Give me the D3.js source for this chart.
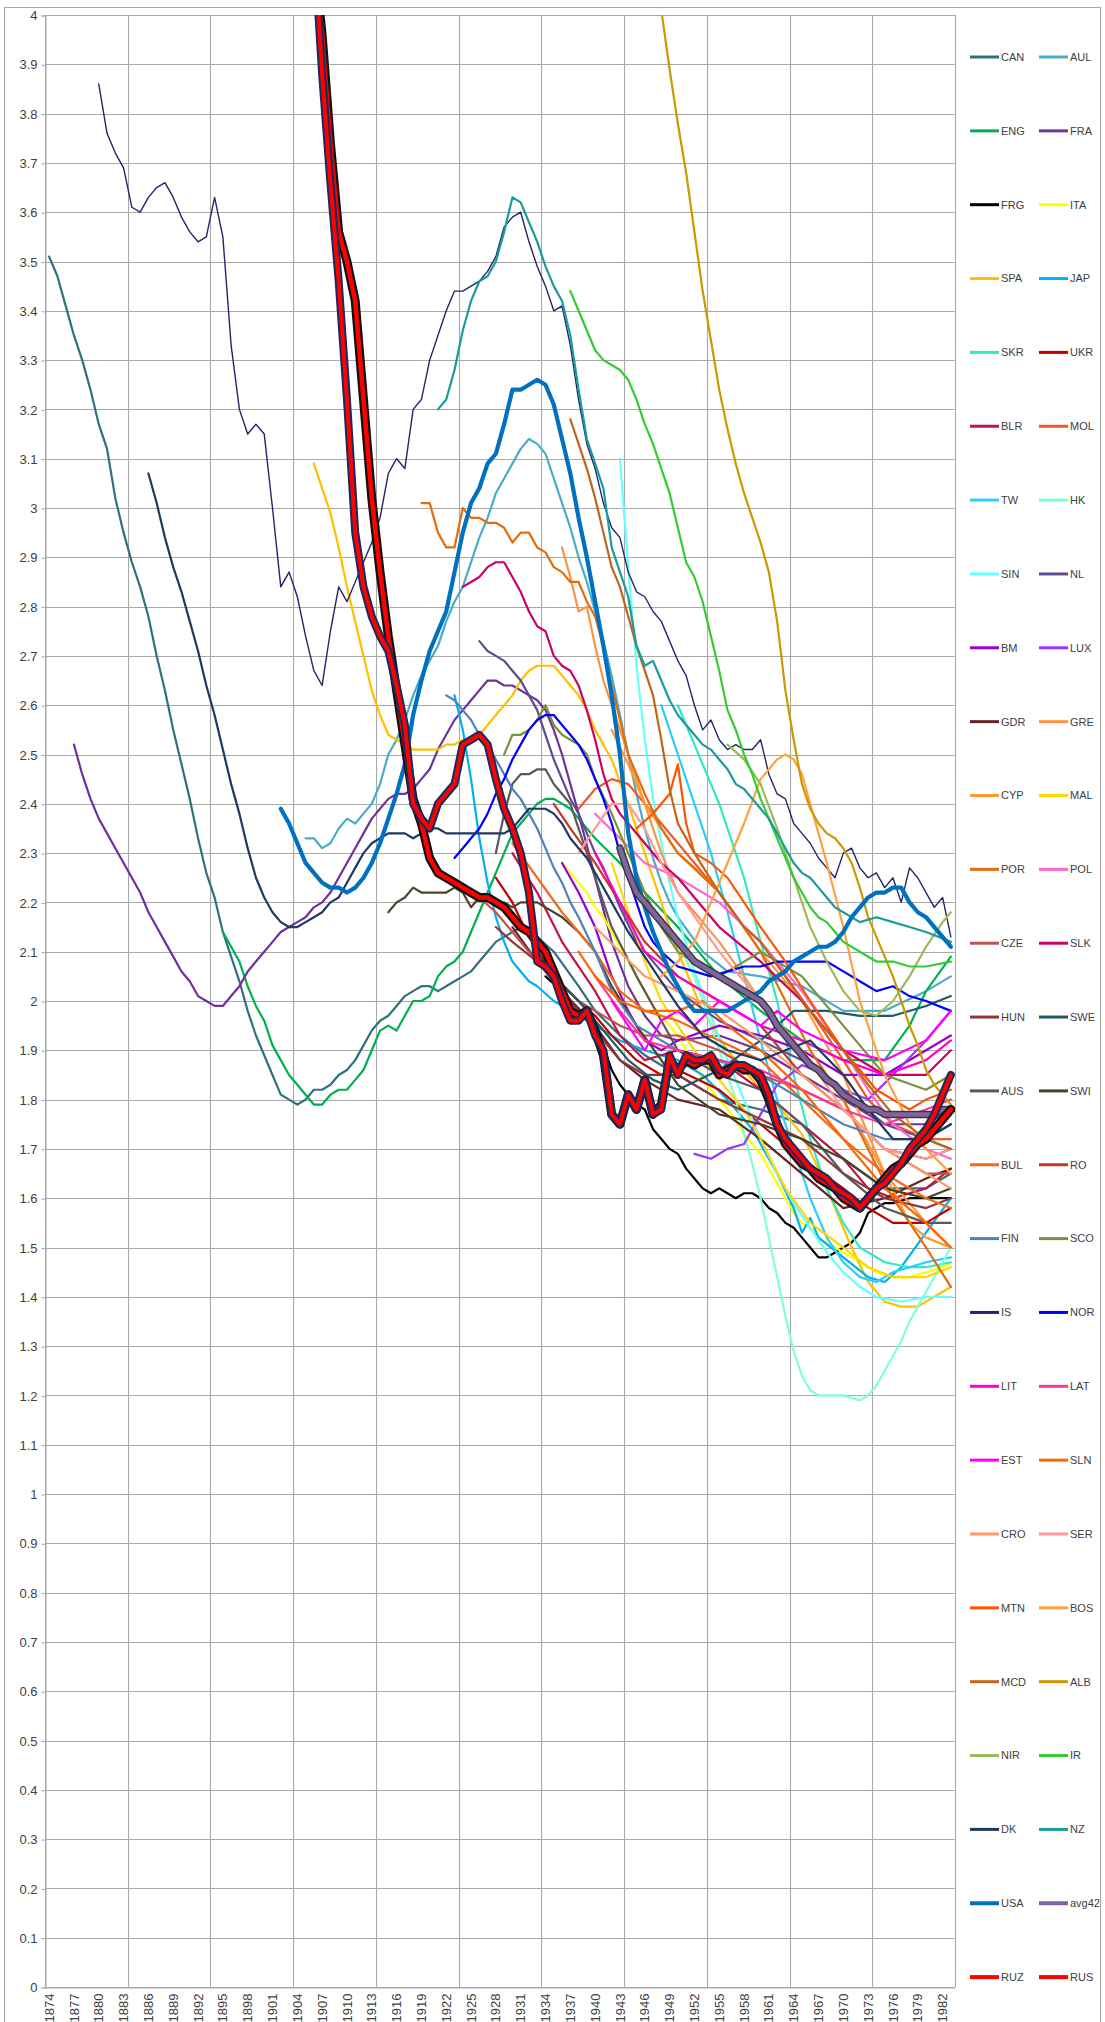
<!DOCTYPE html>
<html><head><meta charset="utf-8">
<script src="https://cdn.jsdelivr.net/npm/d3@7"></script>
<style>
body{margin:0;background:#fff}
svg{display:block}
text{font-family:"Liberation Sans",Arial,sans-serif}
</style>
</head><body>
<svg id="chart" width="1105" height="2022"></svg>
<script>
// ---- categories & ticks ----
const years = d3.range(1874, 1984);
const xTickYears = d3.range(1874, 1984, 3);
const yTicks = d3.range(0, 41).map(i => i / 10);

// ---- series values: [year, value] ----
const CAN = [[1874,3.51],[1875,3.47],[1876,3.41],[1877,3.35],[1878,3.30],[1879,3.24],[1880,3.17],[1881,3.12],[1882,3.02],[1883,2.95],[1884,2.89],[1885,2.84],[1886,2.78],[1887,2.70],[1888,2.63],[1889,2.55],[1890,2.48],[1891,2.41],[1892,2.33],[1893,2.26],[1894,2.21],[1895,2.14],[1896,2.09],[1897,2.04],[1898,1.98],[1899,1.93],[1900,1.89],[1901,1.85],[1902,1.81],[1903,1.80],[1904,1.79],[1905,1.80],[1906,1.82],[1907,1.82],[1908,1.83],[1909,1.85],[1910,1.86],[1911,1.88],[1912,1.91],[1913,1.94],[1914,1.96],[1915,1.97],[1916,1.99],[1917,2.01],[1918,2.02],[1919,2.03],[1920,2.03],[1921,2.02],[1922,2.03],[1923,2.04],[1924,2.05],[1925,2.06],[1926,2.08],[1927,2.10],[1928,2.12],[1929,2.13],[1930,2.14],[1931,2.15],[1933,2.13],[1935,2.10],[1938,2.03],[1940,1.98],[1943,1.93],[1946,1.89],[1950,1.85],[1955,1.80],[1960,1.78],[1965,1.75],[1970,1.68],[1975,1.62],[1980,1.62],[1983,1.65]];
const AUL = [[1905,2.33],[1906,2.33],[1907,2.31],[1908,2.32],[1909,2.35],[1910,2.37],[1911,2.36],[1912,2.38],[1913,2.40],[1914,2.44],[1915,2.50],[1916,2.53],[1917,2.57],[1918,2.62],[1919,2.66],[1920,2.69],[1921,2.72],[1922,2.77],[1923,2.81],[1924,2.84],[1925,2.89],[1926,2.94],[1927,2.98],[1928,3.03],[1929,3.06],[1930,3.09],[1931,3.12],[1932,3.14],[1933,3.13],[1934,3.11],[1935,3.06],[1936,3.01],[1937,2.96],[1938,2.90],[1939,2.85],[1940,2.79],[1941,2.73],[1942,2.66],[1943,2.58],[1944,2.50],[1945,2.42],[1946,2.35],[1947,2.29],[1948,2.24],[1949,2.20],[1950,2.17],[1953,2.10],[1956,2.06],[1960,2.05],[1965,2.03],[1970,1.98],[1975,1.98],[1980,2.02],[1983,2.05]];
const ENG = [[1895,2.14],[1896,2.11],[1897,2.08],[1898,2.03],[1899,1.99],[1900,1.96],[1901,1.91],[1902,1.88],[1903,1.85],[1904,1.83],[1905,1.81],[1906,1.79],[1907,1.79],[1908,1.81],[1909,1.82],[1910,1.82],[1911,1.84],[1912,1.86],[1913,1.90],[1914,1.94],[1915,1.95],[1916,1.94],[1917,1.97],[1918,2.00],[1919,2.00],[1920,2.01],[1921,2.05],[1922,2.07],[1923,2.08],[1924,2.10],[1925,2.14],[1926,2.18],[1927,2.22],[1928,2.26],[1929,2.30],[1930,2.34],[1931,2.36],[1932,2.38],[1933,2.40],[1934,2.41],[1935,2.41],[1936,2.40],[1937,2.39],[1938,2.37],[1939,2.35],[1940,2.33],[1943,2.28],[1946,2.22],[1950,2.15],[1955,2.05],[1960,1.98],[1965,1.92],[1970,1.88],[1975,1.88],[1978,1.95],[1980,2.02],[1983,2.09]];
const FRA = [[1877,2.52],[1878,2.46],[1879,2.41],[1880,2.37],[1881,2.34],[1882,2.31],[1883,2.28],[1884,2.25],[1885,2.22],[1886,2.18],[1887,2.15],[1888,2.12],[1889,2.09],[1890,2.06],[1891,2.04],[1892,2.01],[1893,2.00],[1894,1.99],[1895,1.99],[1896,2.01],[1897,2.03],[1898,2.06],[1899,2.08],[1900,2.10],[1901,2.12],[1902,2.14],[1903,2.15],[1904,2.16],[1905,2.17],[1906,2.19],[1907,2.20],[1908,2.22],[1909,2.25],[1910,2.28],[1911,2.31],[1912,2.34],[1913,2.37],[1914,2.39],[1915,2.41],[1916,2.42],[1917,2.42],[1918,2.43],[1919,2.45],[1920,2.47],[1921,2.51],[1922,2.54],[1923,2.57],[1924,2.59],[1925,2.61],[1926,2.63],[1927,2.65],[1928,2.65],[1929,2.64],[1930,2.64],[1931,2.63],[1932,2.62],[1933,2.61],[1934,2.59],[1935,2.55],[1936,2.50],[1938,2.38],[1940,2.25],[1942,2.12],[1944,2.03],[1946,1.97],[1948,1.93],[1950,1.92],[1955,1.93],[1960,1.90],[1965,1.85],[1970,1.80],[1975,1.75],[1980,1.75],[1983,1.78]];
const FRG = [[1934,2.05],[1936,2.02],[1938,1.98],[1940,1.94],[1941,1.91],[1942,1.86],[1943,1.83],[1944,1.81],[1945,1.79],[1946,1.78],[1947,1.74],[1948,1.72],[1949,1.70],[1950,1.69],[1951,1.66],[1952,1.64],[1953,1.62],[1954,1.61],[1955,1.62],[1956,1.61],[1957,1.60],[1958,1.61],[1959,1.61],[1960,1.60],[1961,1.58],[1962,1.57],[1963,1.55],[1964,1.54],[1965,1.52],[1966,1.50],[1967,1.48],[1968,1.48],[1969,1.49],[1970,1.50],[1971,1.51],[1972,1.53],[1973,1.57],[1974,1.58],[1975,1.59],[1976,1.59],[1978,1.60],[1980,1.60],[1983,1.60]];
const ITA = [[1936,2.28],[1937,2.26],[1938,2.24],[1939,2.22],[1940,2.19],[1941,2.17],[1942,2.14],[1943,2.11],[1944,2.08],[1945,2.05],[1946,2.02],[1947,1.99],[1948,1.97],[1949,1.95],[1950,1.93],[1951,1.90],[1952,1.87],[1953,1.84],[1954,1.82],[1955,1.80],[1956,1.78],[1957,1.76],[1958,1.73],[1959,1.71],[1960,1.69],[1961,1.66],[1962,1.63],[1963,1.60],[1964,1.57],[1965,1.55],[1966,1.54],[1967,1.52],[1968,1.51],[1969,1.50],[1970,1.49],[1971,1.48],[1972,1.47],[1973,1.46],[1974,1.45],[1976,1.44],[1978,1.44],[1980,1.45],[1982,1.46],[1983,1.47]];
const SPA = [[1906,3.09],[1907,3.04],[1908,2.99],[1909,2.92],[1910,2.84],[1911,2.77],[1912,2.70],[1913,2.63],[1914,2.58],[1915,2.54],[1916,2.53],[1917,2.52],[1918,2.51],[1919,2.51],[1920,2.51],[1921,2.51],[1922,2.52],[1923,2.52],[1924,2.53],[1925,2.53],[1926,2.54],[1927,2.56],[1928,2.58],[1929,2.60],[1930,2.62],[1931,2.65],[1932,2.67],[1933,2.68],[1934,2.68],[1935,2.68],[1936,2.66],[1937,2.64],[1938,2.62],[1939,2.59],[1940,2.55],[1941,2.52],[1942,2.49],[1944,2.40],[1946,2.30],[1948,2.20],[1950,2.10],[1953,1.98],[1956,1.90],[1960,1.82],[1963,1.77],[1965,1.73],[1967,1.66],[1969,1.58],[1971,1.50],[1973,1.43],[1975,1.39],[1977,1.38],[1979,1.38],[1981,1.40],[1983,1.42]];
const JAP = [[1923,2.62],[1924,2.55],[1925,2.45],[1926,2.33],[1927,2.24],[1928,2.17],[1929,2.12],[1930,2.08],[1931,2.06],[1932,2.04],[1933,2.03],[1935,2.00],[1938,1.97],[1940,1.95],[1943,1.92],[1946,1.90],[1950,1.88],[1953,1.85],[1956,1.80],[1959,1.74],[1962,1.65],[1964,1.58],[1965,1.53],[1966,1.56],[1967,1.52],[1970,1.48],[1973,1.44],[1975,1.43],[1977,1.46],[1980,1.53],[1983,1.60]];
const SKR = [[1950,2.60],[1952,2.52],[1955,2.40],[1958,2.25],[1960,2.12],[1962,2.00],[1964,1.85],[1966,1.72],[1968,1.62],[1970,1.55],[1972,1.50],[1975,1.47],[1978,1.46],[1980,1.46],[1983,1.47]];
const UKR = [[1928,2.25],[1930,2.20],[1932,2.13],[1935,2.05],[1938,2.00],[1940,1.97],[1942,1.93],[1945,1.88],[1948,1.85],[1950,1.86],[1955,1.82],[1960,1.75],[1965,1.68],[1970,1.62],[1973,1.58],[1976,1.55],[1980,1.55],[1983,1.58]];
const BLR = [[1930,2.30],[1933,2.22],[1936,2.12],[1940,2.02],[1943,1.93],[1946,1.88],[1950,1.90],[1955,1.88],[1960,1.82],[1965,1.75],[1970,1.68],[1973,1.62],[1976,1.60],[1980,1.62],[1983,1.66]];
const MOL = [[1938,2.39],[1940,2.43],[1942,2.45],[1944,2.44],[1946,2.40],[1948,2.36],[1950,2.32],[1952,2.28],[1955,2.22],[1958,2.15],[1960,2.12],[1963,2.05],[1966,1.98],[1970,1.88],[1973,1.80],[1976,1.75],[1980,1.72],[1983,1.72]];
const TW = [[1948,2.60],[1950,2.50],[1952,2.40],[1954,2.30],[1956,2.18],[1958,2.05],[1960,1.92],[1962,1.80],[1964,1.70],[1966,1.60],[1968,1.52],[1970,1.47],[1972,1.44],[1974,1.43],[1976,1.45],[1980,1.47],[1983,1.48]];
const HK = [[1949,2.15],[1952,2.05],[1955,1.90],[1957,1.80],[1958,1.73],[1959,1.67],[1960,1.60],[1961,1.52],[1962,1.44],[1963,1.36],[1964,1.29],[1965,1.24],[1966,1.21],[1967,1.20],[1968,1.20],[1970,1.20],[1972,1.19],[1973,1.20],[1974,1.22],[1975,1.25],[1976,1.28],[1977,1.31],[1978,1.35],[1979,1.38],[1980,1.41],[1981,1.44],[1982,1.47],[1983,1.50]];
const SIN = [[1943,3.10],[1944,2.88],[1945,2.68],[1946,2.53],[1947,2.41],[1948,2.32],[1949,2.24],[1950,2.17],[1952,2.06],[1954,1.97],[1956,1.88],[1958,1.80],[1960,1.72],[1962,1.65],[1964,1.59],[1966,1.54],[1968,1.49],[1970,1.45],[1972,1.42],[1974,1.40],[1977,1.39],[1980,1.40],[1983,1.40]];
const NL = [[1926,2.73],[1927,2.71],[1928,2.70],[1929,2.69],[1930,2.67],[1931,2.65],[1932,2.62],[1933,2.59],[1934,2.54],[1935,2.49],[1936,2.45],[1937,2.41],[1938,2.38],[1939,2.34],[1940,2.30],[1941,2.27],[1942,2.23],[1943,2.19],[1945,2.12],[1950,2.02],[1955,1.96],[1960,1.92],[1965,1.88],[1970,1.82],[1975,1.75],[1980,1.72],[1983,1.70]];
const BM = [[1936,2.28],[1938,2.22],[1940,2.15],[1942,2.05],[1944,1.98],[1946,1.92],[1948,1.90],[1950,1.92],[1955,1.95],[1960,1.93],[1965,1.90],[1970,1.85],[1975,1.85],[1980,1.90],[1983,1.93]];
const LUX = [[1952,1.69],[1954,1.68],[1956,1.70],[1958,1.71],[1960,1.77],[1962,1.83],[1965,1.87],[1968,1.85],[1970,1.82],[1973,1.80],[1976,1.85],[1980,1.92],[1983,1.98]];
const GDR = [[1930,2.15],[1933,2.08],[1936,2.02],[1940,1.95],[1943,1.88],[1946,1.84],[1950,1.80],[1955,1.78],[1960,1.72],[1965,1.65],[1970,1.58],[1975,1.60],[1980,1.64],[1983,1.66]];
const GRE = [[1936,2.92],[1937,2.86],[1938,2.79],[1939,2.80],[1940,2.72],[1941,2.65],[1942,2.60],[1943,2.55],[1944,2.50],[1946,2.40],[1948,2.30],[1950,2.22],[1952,2.18],[1955,2.12],[1958,2.05],[1960,2.00],[1965,1.90],[1970,1.80],[1975,1.65],[1980,1.55],[1983,1.50]];
const CYP = [[1942,2.55],[1944,2.48],[1946,2.40],[1950,2.30],[1955,2.22],[1960,2.10],[1965,2.00],[1970,1.85],[1975,1.65],[1978,1.55],[1980,1.52],[1983,1.50]];
const MAL = [[1942,2.28],[1944,2.18],[1946,2.08],[1948,2.00],[1950,1.95],[1952,1.90],[1955,1.84],[1958,1.78],[1960,1.72],[1963,1.62],[1966,1.55],[1970,1.50],[1973,1.46],[1976,1.44],[1980,1.44],[1983,1.46]];
const POR = [[1919,3.01],[1920,3.01],[1921,2.95],[1922,2.92],[1923,2.92],[1924,3.00],[1925,2.98],[1926,2.98],[1927,2.97],[1928,2.97],[1929,2.96],[1930,2.93],[1931,2.95],[1932,2.95],[1933,2.92],[1934,2.91],[1935,2.88],[1936,2.87],[1937,2.85],[1938,2.85],[1939,2.81],[1940,2.78],[1941,2.72],[1942,2.64],[1943,2.57],[1944,2.50],[1946,2.42],[1948,2.35],[1950,2.30],[1952,2.27],[1955,2.22],[1958,2.15],[1960,2.10],[1963,2.00],[1966,1.90],[1970,1.80],[1973,1.70],[1976,1.60],[1980,1.50],[1983,1.42]];
const POL = [[1940,2.38],[1943,2.33],[1946,2.28],[1950,2.25],[1955,2.20],[1960,2.12],[1965,2.02],[1970,1.90],[1973,1.82],[1976,1.75],[1980,1.70],[1983,1.68]];
const CZE = [[1926,2.21],[1928,2.18],[1930,2.14],[1932,2.10],[1935,2.05],[1938,2.00],[1940,1.98],[1943,1.95],[1946,1.93],[1950,1.93],[1955,1.90],[1960,1.85],[1965,1.82],[1970,1.78],[1975,1.70],[1980,1.65],[1983,1.65]];
const SLK = [[1924,2.84],[1925,2.85],[1926,2.86],[1927,2.88],[1928,2.89],[1929,2.89],[1930,2.86],[1931,2.83],[1932,2.79],[1933,2.76],[1934,2.75],[1935,2.70],[1936,2.68],[1937,2.67],[1938,2.64],[1939,2.59],[1940,2.53],[1941,2.46],[1942,2.41],[1943,2.38],[1944,2.36],[1946,2.32],[1948,2.28],[1950,2.25],[1955,2.15],[1960,2.08],[1965,2.00],[1970,1.90],[1975,1.85],[1980,1.85],[1983,1.90]];
const HUN = [[1928,2.15],[1930,2.12],[1933,2.08],[1936,2.02],[1940,1.94],[1943,1.88],[1946,1.85],[1950,1.85],[1955,1.80],[1960,1.76],[1965,1.72],[1970,1.65],[1975,1.60],[1980,1.58],[1983,1.60]];
const SWE = [[1935,2.05],[1938,2.00],[1941,1.94],[1944,1.88],[1947,1.84],[1950,1.82],[1955,1.86],[1960,1.92],[1964,1.98],[1968,1.98],[1972,1.97],[1976,1.97],[1980,1.99],[1983,2.01]];
const AUS = [[1928,2.30],[1929,2.38],[1930,2.44],[1931,2.46],[1932,2.46],[1933,2.47],[1934,2.47],[1935,2.44],[1936,2.42],[1937,2.40],[1938,2.35],[1940,2.25],[1942,2.15],[1945,2.05],[1950,1.90],[1955,1.85],[1960,1.82],[1965,1.75],[1970,1.65],[1975,1.58],[1980,1.55],[1983,1.55]];
const SWI = [[1915,2.18],[1916,2.20],[1917,2.21],[1918,2.23],[1919,2.22],[1920,2.22],[1921,2.22],[1922,2.22],[1923,2.23],[1924,2.22],[1925,2.19],[1926,2.21],[1927,2.21],[1928,2.20],[1929,2.20],[1930,2.19],[1931,2.20],[1932,2.20],[1933,2.20],[1934,2.19],[1935,2.18],[1936,2.17],[1938,2.14],[1940,2.10],[1942,2.03],[1945,1.95],[1948,1.88],[1950,1.83],[1955,1.77],[1960,1.75],[1965,1.72],[1970,1.68],[1975,1.62],[1980,1.60],[1983,1.62]];
const BUL = [[1930,2.32],[1933,2.25],[1936,2.18],[1940,2.10],[1943,2.02],[1946,1.98],[1950,1.96],[1955,1.92],[1960,1.88],[1965,1.80],[1970,1.72],[1975,1.65],[1980,1.60],[1983,1.58]];
const RO = [[1935,2.40],[1937,2.35],[1940,2.28],[1943,2.20],[1946,2.12],[1950,2.05],[1955,2.00],[1960,1.95],[1965,1.85],[1970,1.78],[1975,1.70],[1980,1.68],[1983,1.70]];
const FIN = [[1922,2.62],[1923,2.61],[1924,2.59],[1925,2.57],[1926,2.54],[1927,2.52],[1928,2.49],[1929,2.46],[1930,2.43],[1931,2.41],[1932,2.38],[1933,2.35],[1934,2.31],[1935,2.27],[1936,2.24],[1937,2.20],[1938,2.17],[1940,2.10],[1942,2.02],[1945,1.95],[1950,1.90],[1955,1.88],[1960,1.85],[1965,1.80],[1970,1.75],[1975,1.72],[1980,1.72],[1983,1.75]];
const SCO = [[1929,2.50],[1930,2.54],[1931,2.54],[1932,2.55],[1933,2.57],[1934,2.60],[1935,2.56],[1936,2.54],[1937,2.53],[1938,2.52],[1939,2.50],[1940,2.45],[1942,2.38],[1944,2.30],[1946,2.22],[1948,2.15],[1950,2.10],[1955,2.05],[1960,2.10],[1965,2.05],[1970,1.95],[1975,1.85],[1980,1.82],[1983,1.85]];
const IS = [[1880,3.86],[1881,3.76],[1882,3.72],[1883,3.69],[1884,3.61],[1885,3.60],[1886,3.63],[1887,3.65],[1888,3.66],[1889,3.63],[1890,3.59],[1891,3.56],[1892,3.54],[1893,3.55],[1894,3.63],[1895,3.55],[1896,3.33],[1897,3.20],[1898,3.15],[1899,3.17],[1900,3.15],[1901,3.00],[1902,2.84],[1903,2.87],[1904,2.82],[1905,2.74],[1906,2.67],[1907,2.64],[1908,2.75],[1909,2.84],[1910,2.81],[1911,2.85],[1912,2.89],[1913,2.93],[1914,2.98],[1915,3.07],[1916,3.10],[1917,3.08],[1918,3.20],[1919,3.22],[1920,3.30],[1921,3.35],[1922,3.40],[1923,3.44],[1924,3.44],[1925,3.45],[1926,3.46],[1927,3.48],[1928,3.51],[1929,3.57],[1930,3.59],[1931,3.60],[1932,3.54],[1933,3.49],[1934,3.45],[1935,3.40],[1936,3.41],[1937,3.33],[1938,3.22],[1939,3.13],[1940,3.08],[1941,3.01],[1942,2.96],[1943,2.94],[1944,2.87],[1945,2.83],[1946,2.82],[1947,2.79],[1948,2.77],[1949,2.73],[1950,2.69],[1951,2.66],[1952,2.60],[1953,2.55],[1954,2.57],[1955,2.53],[1956,2.51],[1957,2.52],[1958,2.51],[1959,2.51],[1960,2.53],[1961,2.46],[1962,2.42],[1963,2.41],[1964,2.36],[1965,2.34],[1966,2.32],[1967,2.29],[1968,2.27],[1969,2.25],[1970,2.30],[1971,2.31],[1972,2.27],[1973,2.25],[1974,2.26],[1975,2.23],[1976,2.25],[1977,2.20],[1978,2.27],[1979,2.25],[1980,2.22],[1981,2.19],[1982,2.21],[1983,2.13]];
const NOR = [[1923,2.29],[1924,2.31],[1925,2.33],[1926,2.35],[1927,2.38],[1928,2.42],[1929,2.45],[1930,2.49],[1931,2.52],[1932,2.55],[1933,2.57],[1934,2.58],[1935,2.58],[1936,2.56],[1937,2.54],[1938,2.52],[1939,2.49],[1940,2.45],[1941,2.41],[1942,2.36],[1943,2.30],[1944,2.25],[1945,2.20],[1946,2.15],[1947,2.12],[1948,2.10],[1950,2.07],[1952,2.06],[1954,2.05],[1956,2.06],[1958,2.07],[1960,2.07],[1962,2.08],[1964,2.08],[1966,2.08],[1968,2.08],[1970,2.06],[1972,2.04],[1974,2.02],[1976,2.03],[1978,2.01],[1980,2.00],[1983,1.98]];
const LIT = [[1940,2.30],[1943,2.20],[1946,2.10],[1950,2.05],[1955,2.00],[1960,1.95],[1965,1.92],[1970,1.88],[1975,1.85],[1980,1.88],[1983,1.92]];
const LAT = [[1940,2.05],[1943,1.98],[1946,1.92],[1950,1.90],[1955,1.88],[1960,1.86],[1965,1.82],[1970,1.78],[1975,1.75],[1980,1.78],[1983,1.80]];
const EST = [[1942,2.00],[1944,1.95],[1946,1.90],[1948,1.96],[1950,1.98],[1952,1.95],[1955,2.00],[1958,1.97],[1960,1.95],[1962,1.98],[1965,1.94],[1970,1.90],[1975,1.88],[1980,1.92],[1983,1.98]];
const SLN = [[1938,2.10],[1940,2.05],[1943,2.00],[1946,1.98],[1950,1.98],[1953,2.00],[1956,1.95],[1960,1.90],[1965,1.82],[1970,1.72],[1975,1.62],[1980,1.55],[1983,1.50]];
const CRO = [[1940,2.15],[1943,2.10],[1946,2.05],[1950,2.02],[1955,1.98],[1960,1.92],[1965,1.85],[1970,1.78],[1975,1.70],[1980,1.65],[1983,1.62]];
const SER = [[1938,2.30],[1940,2.35],[1942,2.40],[1944,2.40],[1946,2.35],[1948,2.28],[1950,2.22],[1955,2.10],[1960,2.00],[1965,1.90],[1970,1.78],[1975,1.70],[1980,1.68],[1983,1.70]];
const MTN = [[1945,2.35],[1947,2.38],[1948,2.40],[1949,2.42],[1950,2.48],[1951,2.36],[1952,2.30],[1954,2.28],[1956,2.25],[1958,2.20],[1960,2.15],[1963,2.08],[1966,2.00],[1970,1.90],[1974,1.82],[1978,1.78],[1980,1.80],[1983,1.82]];
const BOS = [[1948,2.05],[1950,2.08],[1952,2.12],[1954,2.20],[1956,2.28],[1958,2.36],[1960,2.45],[1962,2.49],[1963,2.50],[1964,2.49],[1965,2.46],[1966,2.40],[1968,2.28],[1970,2.15],[1972,2.00],[1975,1.85],[1978,1.75],[1980,1.70],[1983,1.65]];
const MCD = [[1937,3.18],[1938,3.13],[1939,3.08],[1940,3.02],[1941,2.95],[1942,2.88],[1943,2.84],[1944,2.78],[1945,2.72],[1946,2.67],[1947,2.62],[1948,2.53],[1949,2.43],[1950,2.36],[1952,2.30],[1955,2.22],[1958,2.15],[1960,2.12],[1963,2.05],[1966,1.98],[1970,1.90],[1973,1.83],[1976,1.77],[1980,1.72],[1983,1.70]];
const ALB = [[1947,4.12],[1948,4.01],[1949,3.89],[1950,3.78],[1951,3.68],[1952,3.56],[1953,3.44],[1954,3.34],[1955,3.24],[1956,3.16],[1957,3.09],[1958,3.03],[1959,2.98],[1960,2.93],[1961,2.87],[1962,2.77],[1963,2.63],[1964,2.53],[1965,2.44],[1966,2.39],[1967,2.36],[1968,2.34],[1969,2.33],[1970,2.31],[1971,2.28],[1972,2.23],[1973,2.17],[1974,2.13],[1975,2.09],[1976,2.05],[1977,2.00],[1978,1.95],[1979,1.91],[1980,1.86],[1981,1.83],[1982,1.81],[1983,1.79]];
const NIR = [[1956,2.52],[1958,2.49],[1960,2.44],[1962,2.35],[1964,2.25],[1966,2.15],[1968,2.08],[1970,2.02],[1972,1.98],[1974,1.97],[1976,2.00],[1978,2.05],[1980,2.11],[1982,2.16],[1983,2.18]];
const IR = [[1937,3.44],[1938,3.40],[1939,3.36],[1940,3.32],[1941,3.30],[1942,3.29],[1943,3.28],[1944,3.26],[1945,3.22],[1946,3.17],[1947,3.13],[1948,3.08],[1949,3.03],[1950,2.96],[1951,2.89],[1952,2.86],[1953,2.81],[1954,2.74],[1955,2.67],[1956,2.59],[1957,2.55],[1958,2.50],[1959,2.46],[1960,2.41],[1961,2.37],[1962,2.33],[1963,2.29],[1964,2.25],[1965,2.22],[1966,2.19],[1967,2.17],[1968,2.16],[1969,2.14],[1970,2.12],[1972,2.10],[1974,2.08],[1976,2.08],[1978,2.07],[1980,2.07],[1983,2.08]];
const DK = [[1886,3.07],[1887,3.01],[1888,2.94],[1889,2.88],[1890,2.83],[1891,2.77],[1892,2.71],[1893,2.64],[1894,2.58],[1895,2.51],[1896,2.44],[1897,2.38],[1898,2.31],[1899,2.25],[1900,2.21],[1901,2.18],[1902,2.16],[1903,2.15],[1904,2.15],[1905,2.16],[1906,2.17],[1907,2.18],[1908,2.20],[1909,2.21],[1910,2.24],[1911,2.27],[1912,2.30],[1913,2.32],[1914,2.33],[1915,2.34],[1916,2.34],[1917,2.34],[1918,2.33],[1919,2.34],[1920,2.35],[1921,2.35],[1922,2.34],[1923,2.34],[1924,2.34],[1925,2.34],[1926,2.34],[1927,2.34],[1928,2.34],[1929,2.34],[1930,2.35],[1931,2.37],[1932,2.39],[1933,2.39],[1934,2.39],[1935,2.38],[1936,2.36],[1937,2.33],[1938,2.31],[1939,2.29],[1940,2.26],[1942,2.20],[1944,2.14],[1946,2.09],[1948,2.04],[1950,1.99],[1953,1.93],[1956,1.90],[1960,1.88],[1963,1.90],[1966,1.92],[1970,1.85],[1973,1.78],[1976,1.72],[1980,1.72],[1983,1.75]];
const NZ = [[1921,3.20],[1922,3.22],[1923,3.28],[1924,3.36],[1925,3.42],[1926,3.46],[1927,3.47],[1928,3.50],[1929,3.56],[1930,3.63],[1931,3.62],[1932,3.58],[1933,3.54],[1934,3.49],[1935,3.45],[1936,3.42],[1937,3.35],[1938,3.24],[1939,3.14],[1940,3.09],[1941,3.04],[1942,2.92],[1943,2.87],[1944,2.82],[1945,2.72],[1946,2.68],[1947,2.69],[1948,2.65],[1949,2.61],[1950,2.58],[1951,2.56],[1952,2.54],[1953,2.52],[1954,2.51],[1955,2.49],[1956,2.47],[1957,2.44],[1958,2.43],[1959,2.41],[1960,2.39],[1961,2.37],[1962,2.34],[1963,2.31],[1964,2.28],[1965,2.26],[1966,2.25],[1967,2.23],[1968,2.21],[1969,2.19],[1970,2.18],[1972,2.16],[1974,2.17],[1976,2.16],[1978,2.15],[1980,2.14],[1983,2.12]];
const USA = [[1902,2.39],[1903,2.36],[1904,2.32],[1905,2.28],[1906,2.26],[1907,2.24],[1908,2.23],[1909,2.23],[1910,2.22],[1911,2.23],[1912,2.25],[1913,2.28],[1914,2.32],[1915,2.37],[1916,2.42],[1917,2.48],[1918,2.58],[1919,2.65],[1920,2.71],[1921,2.75],[1922,2.79],[1923,2.87],[1924,2.95],[1925,3.01],[1926,3.04],[1927,3.09],[1928,3.11],[1929,3.17],[1930,3.24],[1931,3.24],[1932,3.25],[1933,3.26],[1934,3.25],[1935,3.21],[1936,3.14],[1937,3.07],[1938,2.98],[1939,2.90],[1940,2.81],[1941,2.72],[1942,2.62],[1943,2.50],[1944,2.34],[1945,2.25],[1946,2.19],[1947,2.14],[1948,2.10],[1949,2.06],[1950,2.03],[1951,2.00],[1952,1.98],[1953,1.98],[1954,1.98],[1955,1.98],[1956,1.98],[1957,1.99],[1958,2.00],[1959,2.01],[1960,2.02],[1961,2.04],[1962,2.05],[1963,2.06],[1964,2.08],[1965,2.09],[1966,2.10],[1967,2.11],[1968,2.11],[1969,2.12],[1970,2.14],[1971,2.17],[1972,2.19],[1973,2.21],[1974,2.22],[1975,2.22],[1976,2.23],[1977,2.23],[1978,2.20],[1979,2.18],[1980,2.17],[1981,2.15],[1982,2.13],[1983,2.11]];
const AVG42 = [[1943,2.31],[1944,2.26],[1945,2.22],[1946,2.20],[1947,2.18],[1948,2.16],[1949,2.14],[1950,2.12],[1951,2.10],[1952,2.08],[1953,2.07],[1954,2.06],[1955,2.05],[1956,2.04],[1957,2.03],[1958,2.02],[1959,2.01],[1960,2.00],[1961,1.98],[1962,1.95],[1963,1.93],[1964,1.91],[1965,1.89],[1966,1.87],[1967,1.86],[1968,1.84],[1969,1.83],[1970,1.81],[1971,1.80],[1972,1.79],[1973,1.78],[1974,1.78],[1975,1.77],[1976,1.77],[1977,1.77],[1978,1.77],[1979,1.77],[1980,1.77],[1981,1.77],[1982,1.78],[1983,1.78]];
const RUZ = [[1906,4.12],[1907,3.96],[1908,3.74],[1909,3.56],[1910,3.50],[1911,3.42],[1912,3.22],[1913,3.02],[1914,2.87],[1915,2.74],[1916,2.63],[1917,2.52],[1918,2.41],[1919,2.36],[1920,2.29],[1921,2.26],[1922,2.25],[1923,2.24],[1924,2.23],[1925,2.22],[1926,2.21],[1927,2.21],[1928,2.20],[1929,2.19],[1930,2.17],[1931,2.15],[1932,2.14],[1933,2.12],[1934,2.10],[1935,2.06],[1936,2.02],[1937,1.98],[1938,1.97],[1939,1.98],[1940,1.94],[1941,1.89],[1942,1.77],[1943,1.75],[1944,1.81],[1945,1.78],[1946,1.84],[1947,1.77],[1948,1.79],[1949,1.88],[1950,1.86],[1951,1.88],[1952,1.87],[1953,1.88],[1954,1.88],[1955,1.85],[1956,1.86],[1957,1.87],[1958,1.86],[1959,1.86],[1960,1.84],[1961,1.80],[1962,1.75],[1963,1.71],[1964,1.69],[1965,1.67],[1966,1.66],[1967,1.64],[1968,1.63],[1969,1.62],[1970,1.60],[1971,1.59],[1972,1.58],[1973,1.60],[1974,1.62],[1975,1.64],[1976,1.66],[1977,1.67],[1978,1.69],[1979,1.71],[1980,1.72],[1981,1.74],[1982,1.76],[1983,1.78]];
const RUS = [[1906,4.15],[1907,3.88],[1908,3.66],[1909,3.46],[1910,3.22],[1911,2.95],[1912,2.84],[1913,2.78],[1914,2.74],[1915,2.71],[1916,2.64],[1917,2.56],[1918,2.40],[1919,2.37],[1920,2.35],[1921,2.40],[1922,2.42],[1923,2.44],[1924,2.52],[1925,2.53],[1926,2.54],[1927,2.52],[1928,2.45],[1929,2.39],[1930,2.35],[1931,2.30],[1932,2.22],[1933,2.08],[1934,2.07],[1935,2.05],[1936,2.00],[1937,1.96],[1938,1.96],[1939,1.98],[1940,1.93],[1941,1.90],[1942,1.77],[1943,1.75],[1944,1.81],[1945,1.78],[1946,1.84],[1947,1.77],[1948,1.78],[1949,1.89],[1950,1.85],[1951,1.89],[1952,1.88],[1953,1.88],[1954,1.89],[1955,1.86],[1956,1.85],[1957,1.87],[1958,1.87],[1959,1.86],[1960,1.85],[1961,1.81],[1962,1.75],[1963,1.72],[1964,1.70],[1965,1.68],[1966,1.66],[1967,1.65],[1968,1.64],[1969,1.62],[1970,1.61],[1971,1.60],[1972,1.58],[1973,1.60],[1974,1.62],[1975,1.63],[1976,1.65],[1977,1.67],[1978,1.70],[1979,1.72],[1980,1.74],[1981,1.77],[1982,1.81],[1983,1.85]];

// ---- legend order, colours ----
const seriesNames = ["CAN","AUL","ENG","FRA","FRG","ITA","SPA","JAP","SKR","UKR","BLR","MOL","TW","HK","SIN","NL","BM","LUX","GDR","GRE","CYP","MAL","POR","POL","CZE","SLK","HUN","SWE","AUS","SWI","BUL","RO","FIN","SCO","IS","NOR","LIT","LAT","EST","SLN","CRO","SER","MTN","BOS","MCD","ALB","NIR","IR","DK","NZ","USA","avg42","RUZ","RUS"];
const seriesColors = ["#31707E","#4BACC6","#00B050","#7030A0","#000000","#FFFF00","#FFC000","#00B0F0","#33E8C0","#C00000","#C0144C","#F05A28","#2ECCFA","#7FFFD4","#66FFFF","#5F4B8B","#9900CC","#9933FF","#632523","#F79646","#FF9933","#FFD700","#E46C0A","#FF66CC","#C0504D","#CC0066","#943634","#215967","#595959","#494429","#F26B1D","#C0392B","#4F81BD","#77933C","#25246E","#0000FF","#FF00CC","#FF3399","#FF00FF","#FF6600","#FF9966","#FF9999","#FF5500","#FFA040","#C0651A","#CC9900","#9BBB59","#33CC33","#1F3864","#1A9C9C","#0070C0","#8064A2","#FF0000","#FF0000"];
const seriesData = [CAN,AUL,ENG,FRA,FRG,ITA,SPA,JAP,SKR,UKR,BLR,MOL,TW,HK,SIN,NL,BM,LUX,GDR,GRE,CYP,MAL,POR,POL,CZE,SLK,HUN,SWE,AUS,SWI,BUL,RO,FIN,SCO,IS,NOR,LIT,LAT,EST,SLN,CRO,SER,MTN,BOS,MCD,ALB,NIR,IR,DK,NZ,USA,AVG42,RUZ,RUS];

// heavy series drawn with a dark casing underneath
const casing = {avg42: {color: "#3A3A3A", width: 7.5}, RUZ: {color: "#111111", width: 9}, RUS: {color: "#1B2A5E", width: 8}};

// ---- layout ----
const plot = {left: 45, right: 955, top: 15, bottom: 1987};

const svg = d3.select("#chart");

// outer chart border
svg.append("rect").attr("x", 4.5).attr("y", 7.5).attr("width", 1096).attr("height", 2030)
  .attr("fill", "#fff").attr("stroke", "#A6A6A6").attr("stroke-width", 1);

const x = d3.scaleBand().domain(years).range([plot.left, plot.right]);
const xc = yr => x(yr) + x.bandwidth() / 2;
const y = d3.scaleLinear().domain([0, 4]).range([plot.bottom, plot.top]);

// gridlines
const grid = svg.append("g").attr("stroke", "#A9A9A9").attr("stroke-width", 1.1);
grid.selectAll("line.h").data(yTicks).join("line")
  .attr("x1", plot.left).attr("x2", plot.right)
  .attr("y1", d => Math.round(y(d)) + 0.5).attr("y2", d => Math.round(y(d)) + 0.5);
const vGrid = years.filter((d, i) => i % 10 === 0).map(d => x(d)).concat([plot.right]);
grid.selectAll("line.v").data(vGrid).join("line")
  .attr("x1", d => Math.round(d) + 0.5).attr("x2", d => Math.round(d) + 0.5)
  .attr("y1", plot.top).attr("y2", plot.bottom);

// y axis
const yAxis = d3.axisLeft(y).tickValues(yTicks).tickSize(4).tickFormat(d => String(+d.toFixed(1)));
const ga = svg.append("g").attr("transform", `translate(${plot.left + 0.5},0.5)`).call(yAxis);
ga.select(".domain").attr("stroke", "#A9A9A9");
ga.selectAll(".tick line").attr("stroke", "#A9A9A9");
ga.selectAll(".tick text").attr("fill", "#404040").attr("font-size", 13).attr("x", -8)
  .style("font-family", '"Liberation Sans", Arial, sans-serif');

// x axis
const xAxis = d3.axisBottom(x).tickValues(xTickYears).tickSize(0).tickSizeOuter(0);
const gx = svg.append("g").attr("transform", `translate(0,${plot.bottom + 0.5})`).call(xAxis);
gx.select(".domain").attr("stroke", "#A9A9A9");
gx.selectAll(".tick text")
  .attr("fill", "#404040").attr("font-size", 13)
  .style("font-family", '"Liberation Sans", Arial, sans-serif')
  .attr("transform", "rotate(-90)")
  .attr("text-anchor", "end").attr("dy", "0.35em").attr("x", -6).attr("y", 0);

// clip lines to plot area
svg.append("clipPath").attr("id", "plotClip").append("rect")
  .attr("x", plot.left).attr("y", plot.top).attr("width", plot.right - plot.left).attr("height", plot.bottom - plot.top);

const line = d3.line().x(d => xc(d[0])).y(d => y(d[1]));
const gLines = svg.append("g").attr("clip-path", "url(#plotClip)")
  .attr("fill", "none").attr("stroke-linejoin", "round").attr("stroke-linecap", "round");

function widthOf(name) {
  if (name === "IS") return 1.4;
  if (name === "USA") return 4.2;
  if (name === "avg42") return 4.5;
  if (name === "RUZ") return 4.5;
  if (name === "RUS") return 4;
  return 2.2;
}

seriesNames.forEach((name, i) => {
  const d = seriesData[i];
  if (casing[name]) {
    gLines.append("path").attr("d", line(d)).attr("stroke", casing[name].color).attr("stroke-width", casing[name].width);
  }
  gLines.append("path").attr("d", line(d)).attr("stroke", seriesColors[i]).attr("stroke-width", widthOf(name));
});

// legend: two columns
const legend = svg.append("g");
const rowH = 73.85, row0 = 57;
seriesNames.forEach((name, i) => {
  const col = i % 2, row = Math.floor(i / 2);
  const lx = col === 0 ? 970 : 1039;
  const ly = row0 + row * rowH;
  const g = legend.append("g");
  const thick = (name === "USA" || name === "avg42" || name === "RUZ" || name === "RUS") ? 4 : 3;
  g.append("line").attr("x1", lx).attr("x2", lx + 29).attr("y1", ly).attr("y2", ly)
    .attr("stroke", seriesColors[i]).attr("stroke-width", thick);
  g.append("text").attr("x", lx + 31).attr("y", ly).attr("dy", "0.35em")
    .attr("font-size", 11).attr("fill", "#404040").text(name);
});
</script>
</body></html>
